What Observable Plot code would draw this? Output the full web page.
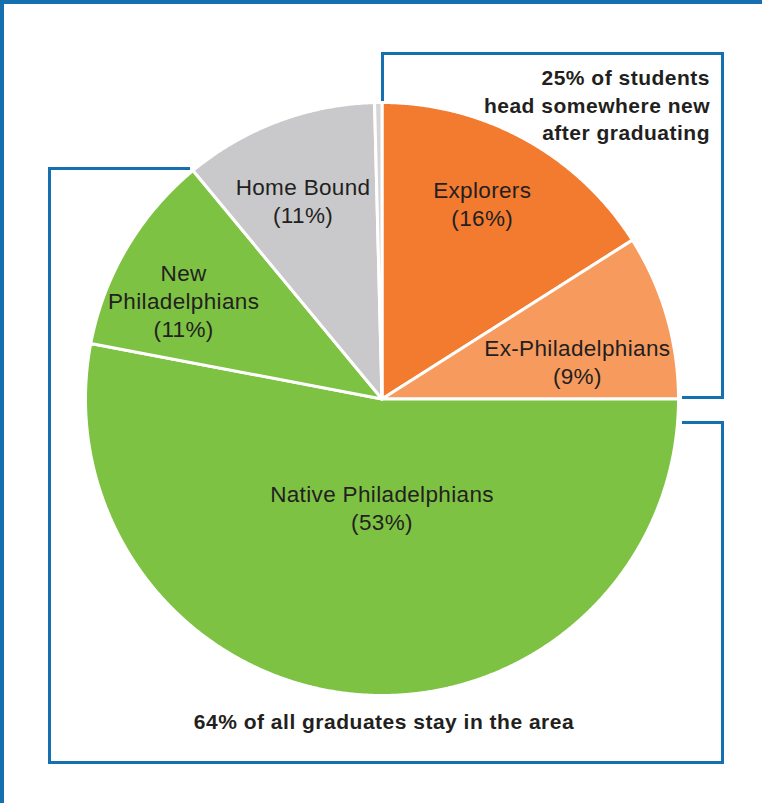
<!DOCTYPE html>
<html>
<head>
<meta charset="utf-8">
<script src="https://cdn.jsdelivr.net/npm/d3@7"></script>
<script src="https://cdn.jsdelivr.net/npm/@observablehq/plot@0.6"></script>
<style>
  html, body { margin: 0; padding: 0; background: #ffffff; }
  #wrap { position: relative; width: 762px; height: 803px; overflow: hidden; background: #fff;
          font-family: "Liberation Sans", Arial, Helvetica, sans-serif; color: #231F20; }
  #wrap svg { position: absolute; left: 0; top: 0; }
  .seg { position: absolute; background: #1670B0; }
  .note { position: absolute; font-weight: bold; font-size: 21px; line-height: 27.5px; letter-spacing: 0.5px; }
</style>
</head>
<body>
<div id="wrap"></div>
<script>
// ---- data ----
const categories = ["Explorers", "Ex-Philadelphians", "Native Philadelphians", "New Philadelphians", "Home Bound", "Other"];
const shares = [16, 9, 53, 11, 10.6, 0.4];            // percent of graduates
const shareLabels = ["16%", "9%", "53%", "11%", "11%", ""];
const nameLines = ["Explorers", "Ex-Philadelphians", "Native Philadelphians", "New\nPhiladelphians", "Home Bound", ""];
const sliceColors = ["#F37B2F", "#F79A5D", "#7DC243", "#7DC243", "#C9C9CB", "#D5D5D7"];
const topNote = "25% of students\nhead somewhere new\nafter graduating";
const bottomNote = "64% of all graduates stay in the area";

// ---- layout (label placement: angle in degrees clockwise from 12 o'clock, radius as fraction of pie radius) ----
const labelAngle = [27.3, 79.5, 180, 296.1, 338.2, 0];
const labelRadius = [0.737, 0.67, 0.372, 0.745, 0.717, 0];

const rows = categories.map((name, i) => ({name, share: shares[i], pct: shareLabels[i], lines: nameLines[i], i}));
const arcs = d3.pie().sort(null).value(d => d.share).startAngle(0).endAngle(2 * Math.PI)(rows);

// polygon outline for each slice (center -> arc -> center), in unit coordinates
const step = Math.PI / 720;
const pts = [];
for (const a of arcs) {
  const name = a.data.name;
  pts.push({name, x: 0, y: 0});
  const n = Math.max(2, Math.ceil((a.endAngle - a.startAngle) / step));
  for (let k = 0; k <= n; k++) {
    const t = a.startAngle + (a.endAngle - a.startAngle) * k / n;
    pts.push({name, x: Math.sin(t), y: Math.cos(t)});
  }
  pts.push({name, x: 0, y: 0});
}

const labels = rows.filter(d => d.share >= 1).map(d => {
  const t = labelAngle[d.i] * Math.PI / 180, r = labelRadius[d.i];
  return {x: r * Math.sin(t), y: r * Math.cos(t), text: d.lines + "\n(" + d.pct + ")"};
});

const chart = Plot.plot({
  width: 762,
  height: 803,
  margin: 0,
  x: {domain: [-1, 1], range: [85, 678], axis: null},
  y: {domain: [-1, 1], range: [695, 102], axis: null},
  color: {domain: categories, range: sliceColors},
  style: {fontFamily: '"Liberation Sans", Arial, Helvetica, sans-serif', background: "transparent", overflow: "visible"},
  marks: [
    Plot.line(pts, {x: "x", y: "y", z: "name", fill: "name", stroke: "#ffffff", strokeWidth: 3, strokeLinejoin: "round", curve: "linear"}),
    Plot.text(labels, {x: "x", y: "y", text: "text", fontSize: 22.5, lineHeight: 1.25, fill: "#231F20", textAnchor: "middle", dy: -2})
  ]
});
chart.style.letterSpacing = "0.35px";
const wrap = document.getElementById("wrap");
wrap.appendChild(chart);

// frame and brackets
const segs = [
  [0, 0, 762, 4], [0, 0, 4, 803],
  [381, 52, 3, 49], [381, 52, 343, 3], [721, 52, 3, 347], [682, 396, 42, 3],
  [48, 167, 142, 3], [48, 167, 3, 597], [48, 761, 676, 3], [721, 421, 3, 343], [682, 421, 42, 3]
];
for (const [l, t, w, h] of segs) {
  const d = document.createElement("div");
  d.className = "seg";
  Object.assign(d.style, {left: l + "px", top: t + "px", width: w + "px", height: h + "px"});
  wrap.appendChild(d);
}
const n1 = document.createElement("div");
n1.className = "note";
Object.assign(n1.style, {right: "52px", top: "64px", textAlign: "right", whiteSpace: "pre"});
n1.textContent = topNote;
wrap.appendChild(n1);
const n2 = document.createElement("div");
n2.className = "note";
Object.assign(n2.style, {left: "0px", width: "768px", top: "708px", textAlign: "center", whiteSpace: "pre"});
n2.textContent = bottomNote;
wrap.appendChild(n2);
</script>
</body>
</html>
